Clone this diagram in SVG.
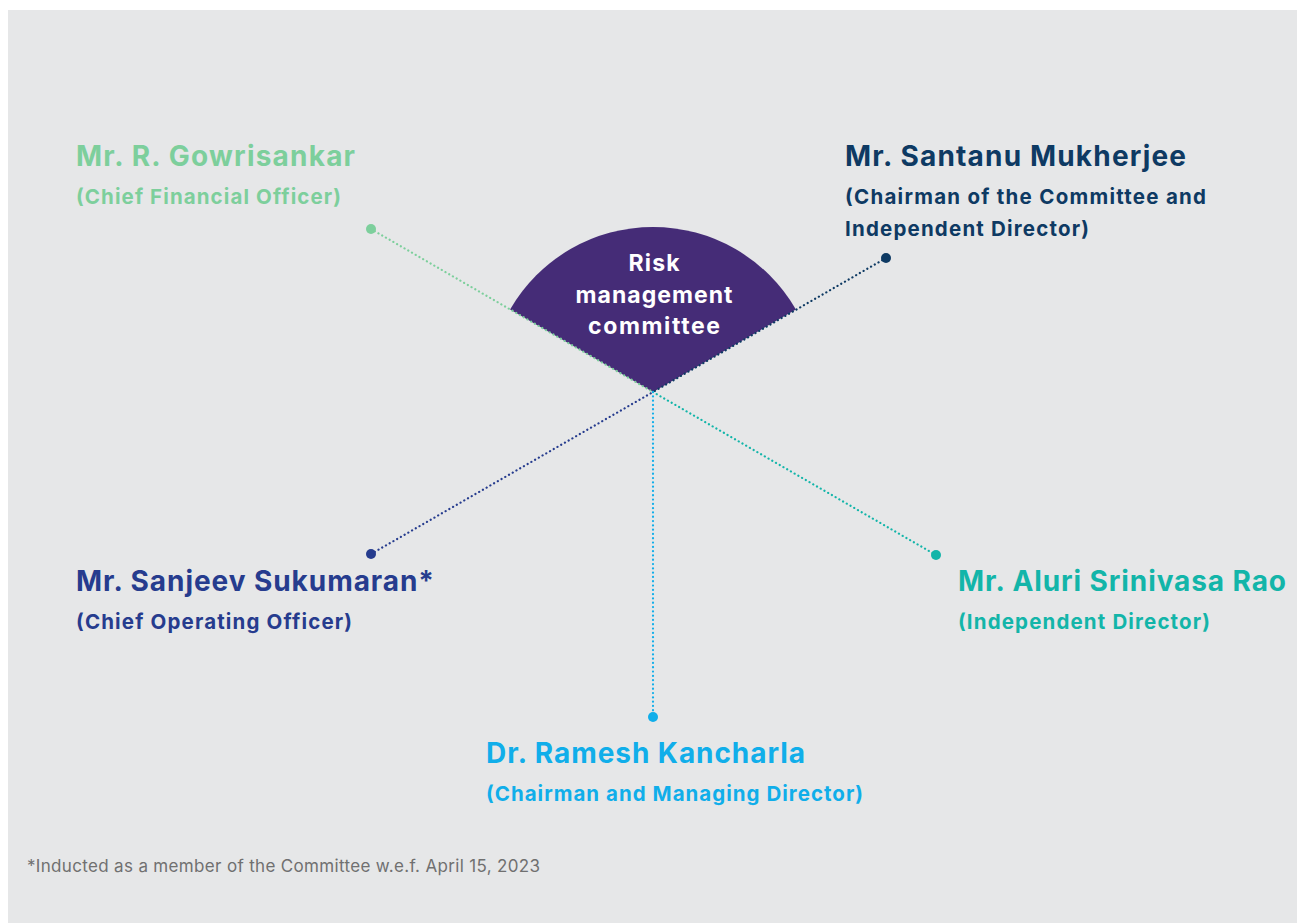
<svg xmlns="http://www.w3.org/2000/svg" width="1298" height="923" viewBox="0 0 1298 923">
<style>
.name{font-family:"Inter","Liberation Sans",sans-serif;font-weight:700;font-size:28px}
.role{font-family:"Inter","Liberation Sans",sans-serif;font-weight:700;font-size:20.5px}
.fan{font-family:"Inter","Liberation Sans",sans-serif;font-weight:700;font-size:23px;fill:#ffffff;text-anchor:middle}
.foot{font-family:"Inter","Liberation Sans",sans-serif;font-weight:400;font-size:17px;fill:#707070}
.dl{fill:none;stroke-width:2.2;stroke-dasharray:0.1 4.2;stroke-linecap:round}
</style>
<rect x="0" y="0" width="1298" height="923" fill="#ffffff"/>
<rect x="8" y="10" width="1289" height="913" fill="#e6e7e8"/>
<g id="committee">
<path d="M653 392 L510.1 309.5 A165 165 0 0 1 795.9 309.5 Z" fill="#452c77"/>
<text class="fan" x="654" y="271" textLength="51" lengthAdjust="spacing">Risk</text>
<text class="fan" x="654" y="303" textLength="157" lengthAdjust="spacing">management</text>
<text class="fan" x="654" y="334" textLength="132" lengthAdjust="spacing">committee</text>
</g>
<g id="connectors">
<line class="dl" x1="371" y1="229" x2="653" y2="392" stroke="#7dcf9c"/>
<line class="dl" x1="653" y1="392" x2="936" y2="555" stroke="#13b5a9"/>
<line class="dl" x1="886" y1="258" x2="653" y2="392" stroke="#0e3a63"/>
<line class="dl" x1="371" y1="554" x2="653" y2="392" stroke="#263c8e"/>
<line class="dl" x1="653" y1="392" x2="653" y2="717" stroke="#10aeea"/>
<circle cx="371" cy="229" r="5" fill="#7dcf9c"/>
<circle cx="936" cy="555" r="5" fill="#13b5a9"/>
<circle cx="886" cy="258" r="5" fill="#0e3a63"/>
<circle cx="371" cy="554" r="5" fill="#263c8e"/>
<circle cx="653" cy="717" r="5" fill="#10aeea"/>
</g>
<g id="gowrisankar" fill="#7dcf9c">
<text class="name" x="76" y="166" textLength="279" lengthAdjust="spacing">Mr. R. Gowrisankar</text>
<text class="role" x="76" y="204" textLength="265" lengthAdjust="spacing">(Chief Financial Officer)</text>
</g>
<g id="mukherjee" fill="#0e3a63">
<text class="name" x="845" y="166" textLength="341" lengthAdjust="spacing">Mr. Santanu Mukherjee</text>
<text class="role" x="845" y="204" textLength="361" lengthAdjust="spacing">(Chairman of the Committee and</text>
<text class="role" x="845" y="236" textLength="244" lengthAdjust="spacing">Independent Director)</text>
</g>
<g id="sukumaran" fill="#263c8e">
<text class="name" x="76" y="591" textLength="358" lengthAdjust="spacing">Mr. Sanjeev Sukumaran*</text>
<text class="role" x="76" y="629" textLength="276" lengthAdjust="spacing">(Chief Operating Officer)</text>
</g>
<g id="rao" fill="#13b5a9">
<text class="name" x="958" y="591" textLength="328" lengthAdjust="spacing">Mr. Aluri Srinivasa Rao</text>
<text class="role" x="958" y="629" textLength="252" lengthAdjust="spacing">(Independent Director)</text>
</g>
<g id="kancharla" fill="#10aeea">
<text class="name" x="486" y="763" textLength="319" lengthAdjust="spacing">Dr. Ramesh Kancharla</text>
<text class="role" x="486" y="801" textLength="377" lengthAdjust="spacing">(Chairman and Managing Director)</text>
</g>
<text class="foot" x="27" y="872" textLength="513" lengthAdjust="spacing">*Inducted as a member of the Committee w.e.f. April 15, 2023</text>
</svg>
